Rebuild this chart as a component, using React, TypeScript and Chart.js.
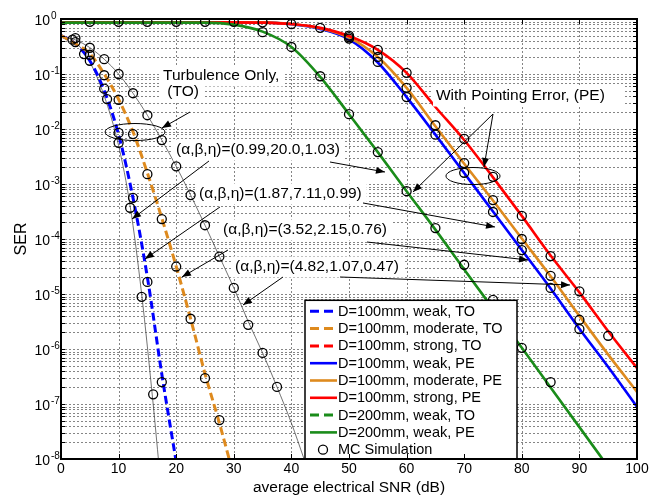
import React, { useEffect, useRef } from 'react';
import { Chart, registerables } from 'chart.js';

Chart.register(...registerables);

const FONT = "'Liberation Sans', Arial, Helvetica, sans-serif";
const BLUE = '#0000FF';
const ORANGE = '#DE8A1E';
const RED = '#FF0000';
const GREEN = '#1A8C1A';
const THIN = 'rgba(60,60,60,0.9)';

// ---------- data: average electrical SNR (dB) and SER ----------
const SNR_TO_WEAK_100 = [0, 2.5, 5, 7.5, 10, 12.5, 15, 17.5, 20];
const SER_TO_WEAK_100 = [0.5, 0.355, 0.174, 0.05, 7.9e-3, 5.6e-4, 2.0e-5, 3.5e-7, 8.9e-9];

const SNR_TO_MOD_100 = [0, 2.5, 5, 7.5, 10, 12.5, 15, 17.5, 20, 22.5, 25, 27.5, 29.2];
const SER_TO_MOD_100 = [0.5, 0.355, 0.234, 0.1, 0.0347, 8.9e-3, 1.58e-3, 2.4e-4, 3.16e-5, 3.55e-6, 3.55e-7, 4.5e-8, 1.0e-8];

const SNR_TO_STRONG_100 = [0, 2.5, 5, 7.5, 10, 12.5, 15, 17.5, 20, 22.5, 25, 27.5, 30, 32.5, 35, 37.5, 40, 42.2];
const SER_TO_STRONG_100 = [0.5, 0.417, 0.302, 0.186, 0.1, 0.0447, 0.0178, 6.3e-3, 2.1e-3, 6.3e-4, 1.78e-4, 4.8e-5, 1.29e-5, 3.16e-6, 8.5e-7, 2.04e-7, 4.5e-8, 1.0e-8];

const SNR_TO_WEAK_200 = [0, 2.5, 5, 7.5, 10, 12, 14, 16, 17];
const SER_TO_WEAK_200 = [0.5, 0.38, 0.166, 0.04, 5.0e-3, 4.0e-4, 1.0e-5, 1.0e-7, 7.9e-9];

const SNR_PE_100 = [0, 5, 10, 15, 20, 25, 30, 35, 40, 45, 50, 55, 60, 65, 70, 75, 80, 85, 90, 95, 100];
const SER_PE_WEAK_100 = [0.87, 0.87, 0.87, 0.87, 0.87, 0.87, 0.87, 0.87, 0.8, 0.66, 0.427, 0.162, 0.038, 7.9e-3, 1.58e-3, 3.16e-4, 6.3e-5, 1.26e-5, 2.34e-6, 4.7e-7, 8.9e-8];
const SER_PE_MOD_100 = [0.87, 0.87, 0.87, 0.87, 0.87, 0.87, 0.87, 0.87, 0.81, 0.676, 0.457, 0.204, 0.056, 0.0112, 2.34e-3, 5.0e-4, 1.02e-4, 2.1e-5, 4.0e-6, 7.9e-7, 1.66e-7];
const SER_PE_STRONG_100 = [0.87, 0.87, 0.87, 0.87, 0.87, 0.87, 0.87, 0.86, 0.81, 0.69, 0.49, 0.275, 0.105, 0.0251, 6.3e-3, 1.32e-3, 2.63e-4, 5.0e-5, 1.07e-5, 2.1e-6, 4.5e-7];

const SNR_PE_200 = [0, 5, 10, 15, 20, 25, 30, 35, 40, 45, 50, 55, 60, 65, 70, 75, 80, 85, 90, 95];
const SER_PE_WEAK_200 = [0.86, 0.86, 0.86, 0.86, 0.86, 0.86, 0.79, 0.59, 0.31, 0.089, 0.0186, 3.8e-3, 7.4e-4, 1.48e-4, 2.8e-5, 5.4e-6, 1.05e-6, 2.0e-7, 3.8e-8, 7.2e-9];

const MC_SNR = [
  5, 10, 15, 20, 25, 30,
  2, 2.5, 2.5,
  5, 7.5, 10, 12.5, 15, 17.5, 20, 22.5, 25, 27.5, 30, 32.5, 35, 37.5,
  5, 7.5, 10, 12.5, 15, 17.5, 20, 22.5, 25, 27.5,
  5, 7.5, 10, 12.5, 15, 17.5,
  4, 8, 10, 12, 14, 16,
  35, 40, 45,
  35, 40, 45, 50, 55, 60, 65, 70, 75, 80, 85,
  50, 50, 50, 55, 55, 55, 60, 60, 60, 65, 65,
  70, 70, 70, 75, 75, 75, 80, 80, 80, 85, 85, 85, 90, 90, 90, 95,
];
const MC_SER = [
  0.89, 0.89, 0.89, 0.89, 0.89, 0.89,
  0.42, 0.45, 0.38,
  0.3, 0.186, 0.1, 0.0447, 0.0178, 6.3e-3, 2.1e-3, 6.3e-4, 1.78e-4, 4.8e-5, 1.29e-5, 2.75e-6, 8.5e-7, 2.04e-7,
  0.224, 0.095, 0.034, 8.1e-3, 1.51e-3, 2.3e-4, 3.16e-5, 3.55e-6, 2.95e-7, 5.1e-8,
  0.174, 0.054, 8.5e-3, 5.6e-4, 1.66e-5, 2.5e-7,
  0.23, 0.035, 5.6e-3, 3.7e-4, 8.9e-6, 1.5e-7,
  0.87, 0.81, 0.69,
  0.575, 0.31, 0.091, 0.0186, 3.8e-3, 7.4e-4, 1.58e-4, 3.4e-5, 7.8e-6, 1.05e-6, 2.5e-7,
  0.5, 0.47, 0.44, 0.275, 0.204, 0.166, 0.105, 0.056, 0.038, 0.0117, 7.9e-3,
  6.6e-3, 2.4e-3, 1.6e-3, 1.35e-3, 5.1e-4, 3.1e-4, 2.63e-4, 1.0e-4, 6.3e-5, 4.9e-5, 2.14e-5, 1.29e-5, 1.12e-5, 3.4e-6, 2.3e-6, 1.74e-6,
];

// ---------- axes ----------
const X_TICKS = [0, 10, 20, 30, 40, 50, 60, 70, 80, 90, 100];
const Y_DECADE_EXPONENTS = [0, -1, -2, -3, -4, -5, -6, -7, -8];
const Y_MINOR_MULTIPLIERS = [1, 2, 3, 4, 5, 6, 7, 8, 9];

// ---------- legend ----------
const LEGEND_LABELS = [
  'D=100mm, weak, TO',
  'D=100mm, moderate, TO',
  'D=100mm, strong, TO',
  'D=100mm, weak, PE',
  'D=100mm, moderate, PE',
  'D=100mm, strong, PE',
  'D=200mm, weak, TO',
  'D=200mm, weak, PE',
  'MC Simulation',
];
const LEGEND_COLORS = [BLUE, ORANGE, RED, BLUE, ORANGE, RED, GREEN, GREEN, '#000'];
const LEGEND_DASHED = [true, true, true, false, false, false, true, false, false];

// ---------- annotations (x in dB, y as log10 SER) ----------
const NOTE_TEXTS = [
  'Turbulence Only,',
  ' (TO)',
  '(α,β,η)=(0.99,20.0,1.03)',
  '(α,β,η)=(1.87,7.11,0.99)',
  '(α,β,η)=(3.52,2.15,0.76)',
  '(α,β,η)=(4.82,1.07,0.47)',
  'With Pointing Error, (PE)',
];
const NOTE_POS = [
  [17.71, -1.036], [17.71, -1.327], [19.97, -2.382], [23.96, -3.182],
  [28.13, -3.836], [30.21, -4.509], [65.1, -1.4],
];
const NOTE_BOX_EXTRA = [0, 0, 0, 0, 0, 0, 14];
const ARROWS = [
  [22.4, -1.691, 17.53, -1.982],
  [25.69, -2.582, 12.33, -3.636],
  [46.7, -2.6, 56.25, -2.782],
  [27.6, -3.418, 14.58, -4.364],
  [52.43, -3.345, 75.35, -3.782],
  [28.99, -4.2, 21.0, -4.691],
  [53.13, -4.055, 81.08, -4.382],
  [38.54, -4.691, 31.6, -5.2],
  [48.44, -4.691, 88.37, -4.836],
  [75.0, -1.727, 61.11, -3.145],
  [75.0, -1.727, 73.44, -2.691],
];
const ELLIPSES = [
  [12.85, -2.055, 5.2, 0.155],
  [71.53, -2.855, 4.7, 0.155],
];

const pts = (xs: number[], ys: number[]) => xs.map((x, i) => ({ x, y: ys[i] }));

function yGridValues(): number[] {
  const out: number[] = [1];
  for (const e of Y_DECADE_EXPONENTS) {
    if (e === 0) continue;
    for (const m of Y_MINOR_MULTIPLIERS) out.push(m * Math.pow(10, e));
  }
  return out;
}

function drawArrow(ctx: CanvasRenderingContext2D, x1: number, y1: number, x2: number, y2: number) {
  ctx.beginPath();
  ctx.moveTo(x1, y1);
  ctx.lineTo(x2, y2);
  ctx.stroke();
  const a = Math.atan2(y2 - y1, x2 - x1);
  const L = 9, W = 3.5;
  const c = Math.cos(a), s = Math.sin(a);
  ctx.beginPath();
  ctx.moveTo(x2, y2);
  ctx.lineTo(x2 - L * c + W * s, y2 - L * s - W * c);
  ctx.lineTo(x2 - L * c - W * s, y2 - L * s + W * c);
  ctx.closePath();
  ctx.fill();
}

const gridPlugin = {
  id: 'customGrid',
  beforeDatasetsDraw(chart: any) {
    const { ctx, chartArea: ca, scales } = chart;
    ctx.save();
    ctx.strokeStyle = '#858585';
    ctx.lineWidth = 1;
    ctx.setLineDash([2, 2]);
    for (const v of X_TICKS) {
      const xp = Math.round(scales.x.getPixelForValue(v)) + 0.5;
      ctx.beginPath();
      ctx.moveTo(xp, ca.top);
      ctx.lineTo(xp, ca.bottom);
      ctx.stroke();
    }
    for (const v of yGridValues()) {
      const yp = Math.round(scales.y.getPixelForValue(v)) + 0.5;
      ctx.beginPath();
      ctx.moveTo(ca.left, yp);
      ctx.lineTo(ca.right, yp);
      ctx.stroke();
    }
    ctx.restore();
  },
};

const overlayPlugin = {
  id: 'overlay',
  afterDatasetsDraw(chart: any) {
    const { ctx, chartArea: ca, scales } = chart;
    const X = (v: number) => scales.x.getPixelForValue(v);
    const Y = (e: number) => scales.y.getPixelForValue(Math.pow(10, e));
    ctx.save();
    // annotation boxes
    ctx.font = `15.5px ${FONT}`;
    ctx.fillStyle = '#fff';
    NOTE_TEXTS.forEach((t, i) => {
      const x = X(NOTE_POS[i][0]);
      const y = Y(NOTE_POS[i][1]);
      const w = ctx.measureText(t).width;
      ctx.fillRect(x - 3, y - 10.5, w + 8 + NOTE_BOX_EXTRA[i], 21);
    });
    // arrows
    ctx.strokeStyle = '#000';
    ctx.fillStyle = '#000';
    ctx.lineWidth = 1;
    ctx.setLineDash([]);
    for (const a of ARROWS) drawArrow(ctx, X(a[0]), Y(a[1]), X(a[2]), Y(a[3]));
    // ellipses
    for (const el of ELLIPSES) {
      const cx = X(el[0]);
      const cy = Y(el[1]);
      const rx = X(el[0] + el[2]) - cx;
      const ry = Y(el[1] - el[3]) - cy;
      ctx.beginPath();
      ctx.ellipse(cx, cy, rx, ry, 0, 0, Math.PI * 2);
      ctx.stroke();
    }
    // annotation text
    ctx.fillStyle = '#000';
    ctx.textAlign = 'left';
    ctx.textBaseline = 'middle';
    NOTE_TEXTS.forEach((t, i) => {
      ctx.fillText(t, X(NOTE_POS[i][0]), Y(NOTE_POS[i][1]));
    });

    // legend box
    const lw = 212, rowH = 17.3;
    const lh = rowH * LEGEND_LABELS.length + 3;
    const lx = ca.left + 244;
    const ly = ca.bottom - lh;
    ctx.fillStyle = '#fff';
    ctx.fillRect(lx, ly, lw, lh);
    ctx.strokeStyle = '#000';
    ctx.lineWidth = 1.5;
    ctx.strokeRect(lx, ly, lw, lh);
    ctx.font = `14.5px ${FONT}`;
    LEGEND_LABELS.forEach((label, i) => {
      const yy = ly + 11 + i * rowH;
      if (i === LEGEND_LABELS.length - 1) {
        ctx.setLineDash([]);
        ctx.strokeStyle = '#000';
        ctx.lineWidth = 1.3;
        ctx.beginPath();
        ctx.arc(lx + 18, yy, 4.5, 0, Math.PI * 2);
        ctx.stroke();
      } else {
        ctx.strokeStyle = LEGEND_COLORS[i];
        ctx.lineWidth = LEGEND_DASHED[i] ? 3 : 2.6;
        ctx.setLineDash(LEGEND_DASHED[i] ? [9, 5] : []);
        ctx.beginPath();
        ctx.moveTo(lx + 5, yy);
        ctx.lineTo(lx + 32, yy);
        ctx.stroke();
      }
      ctx.setLineDash([]);
      ctx.fillStyle = '#000';
      ctx.fillText(label, lx + 33, yy + 0.5);
    });

    // frame and inner ticks
    ctx.setLineDash([]);
    ctx.strokeStyle = '#000';
    ctx.lineWidth = 1;
    for (const v of X_TICKS) {
      const xp = Math.round(X(v)) + 0.5;
      ctx.beginPath();
      ctx.moveTo(xp, ca.bottom);
      ctx.lineTo(xp, ca.bottom - 5);
      ctx.moveTo(xp, ca.top);
      ctx.lineTo(xp, ca.top + 5);
      ctx.stroke();
    }
    for (const v of yGridValues()) {
      const yp = Math.round(scales.y.getPixelForValue(v)) + 0.5;
      ctx.beginPath();
      ctx.moveTo(ca.left, yp);
      ctx.lineTo(ca.left + 4, yp);
      ctx.moveTo(ca.right, yp);
      ctx.lineTo(ca.right - 4, yp);
      ctx.stroke();
    }
    ctx.lineWidth = 2;
    ctx.strokeRect(ca.left, ca.top, ca.right - ca.left, ca.bottom - ca.top);
    ctx.restore();
  },
  afterDraw(chart: any) {
    const { ctx, scales } = chart;
    ctx.save();
    ctx.fillStyle = '#000';
    ctx.textBaseline = 'middle';
    for (const e of Y_DECADE_EXPONENTS) {
      const yp = scales.y.getPixelForValue(Math.pow(10, e));
      ctx.font = `14px ${FONT}`;
      ctx.textAlign = 'right';
      ctx.fillText('10', 50, yp + 2.5);
      ctx.font = `10px ${FONT}`;
      ctx.textAlign = 'left';
      ctx.fillText(String(e), 51, yp - 2.5);
    }
    ctx.restore();
  },
};

export default function App() {
  const ref = useRef<HTMLCanvasElement>(null);
  useEffect(() => {
    const line = (label: string, xs: number[], ys: number[], color: string, width: number, dash: number[], order: number) => ({
      label,
      data: pts(xs, ys),
      showLine: true,
      borderColor: color,
      backgroundColor: color,
      borderWidth: width,
      borderDash: dash,
      pointRadius: 0,
      cubicInterpolationMode: 'monotone',
      fill: false,
      order,
    });
    const chart = new Chart(ref.current!, {
      type: 'scatter',
      data: {
        datasets: [
          line(LEGEND_LABELS[0], SNR_TO_WEAK_100, SER_TO_WEAK_100, BLUE, 3, [8, 4], 6),
          line(LEGEND_LABELS[1], SNR_TO_MOD_100, SER_TO_MOD_100, ORANGE, 3, [8, 4], 5),
          line(LEGEND_LABELS[2], SNR_TO_STRONG_100, SER_TO_STRONG_100, THIN, 0.8, [], 7),
          line(LEGEND_LABELS[3], SNR_PE_100, SER_PE_WEAK_100, BLUE, 2.6, [], 4),
          line(LEGEND_LABELS[4], SNR_PE_100, SER_PE_MOD_100, ORANGE, 2.6, [], 3),
          line(LEGEND_LABELS[5], SNR_PE_100, SER_PE_STRONG_100, RED, 2.6, [], 2),
          line(LEGEND_LABELS[6], SNR_TO_WEAK_200, SER_TO_WEAK_200, THIN, 0.8, [], 8),
          line(LEGEND_LABELS[7], SNR_PE_200, SER_PE_WEAK_200, GREEN, 2.6, [], 1),
          {
            label: LEGEND_LABELS[8],
            data: pts(MC_SNR, MC_SER),
            showLine: false,
            pointStyle: 'circle',
            pointRadius: 4.5,
            borderWidth: 1.3,
            borderColor: '#000',
            backgroundColor: 'rgba(0,0,0,0)',
            order: 0,
          },
        ] as any,
      },
      options: {
        responsive: false,
        animation: false,
        events: [],
        layout: { padding: { top: 19, right: 24, left: 0, bottom: 0 } },
        plugins: { legend: { display: false }, tooltip: { enabled: false } },
        scales: {
          x: {
            type: 'linear',
            min: 0,
            max: 100,
            afterBuildTicks: (s: any) => { s.ticks = X_TICKS.map((v) => ({ value: v })); },
            afterFit: (s: any) => { s.height = 43; },
            ticks: { color: '#000', font: { family: FONT, size: 14 }, padding: 2, maxRotation: 0, autoSkip: false },
            grid: { display: false, drawTicks: false },
            border: { display: false },
            title: { display: true, text: 'average electrical SNR (dB)', color: '#000', font: { family: FONT, size: 15.5 }, padding: { top: 0, bottom: 4.7 } },
          },
          y: {
            type: 'logarithmic',
            min: 1e-8,
            max: 1,
            afterFit: (s: any) => { s.width = 61; },
            ticks: { display: false },
            grid: { display: false, drawTicks: false },
            border: { display: false },
            title: { display: true, text: 'SER', color: '#000', font: { family: FONT, size: 16 }, padding: { top: 11.5, bottom: 0 } },
          },
        },
      } as any,
      plugins: [gridPlugin, overlayPlugin],
    });
    return () => chart.destroy();
  }, []);
  return (
    <div style={{ position: 'fixed', left: 0, top: 0, width: 661, height: 502, background: '#fff' }}>
      <canvas ref={ref} width={661} height={502} style={{ display: 'block' }} />
    </div>
  );
}
